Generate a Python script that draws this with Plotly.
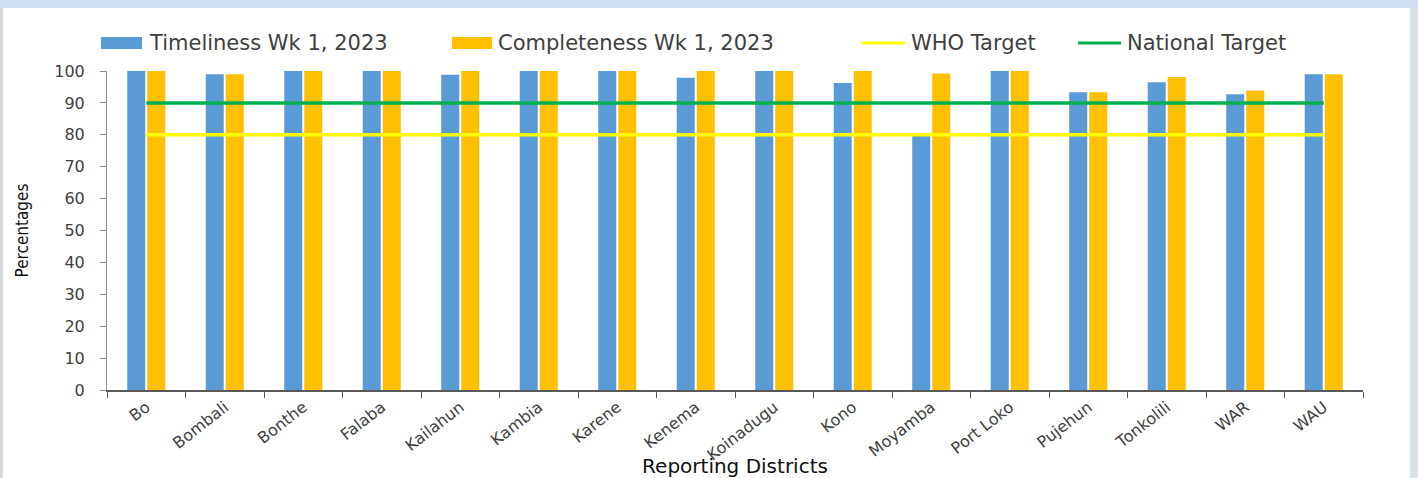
import plotly.graph_objects as go

# ---------------- data ----------------
districts = ["Bo", "Bombali", "Bonthe", "Falaba", "Kailahun", "Kambia", "Karene",
             "Kenema", "Koinadugu", "Kono", "Moyamba", "Port Loko", "Pujehun",
             "Tonkolili", "WAR", "WAU"]
timeliness = [100, 99, 100, 100, 98.8, 100, 100, 97.9, 100, 96.2, 79.6, 100,
              93.3, 96.5, 92.7, 99]
completeness = [100, 99, 100, 100, 100, 100, 100, 100, 100, 100, 99.2, 100,
                93.3, 98.1, 93.9, 99]
WHO_TARGET = 80
NATIONAL_TARGET = 90
y_ticks = [0, 10, 20, 30, 40, 50, 60, 70, 80, 90, 100]

series_names = ["Timeliness Wk 1, 2023", "Completeness Wk 1, 2023",
                "WHO Target", "National Target"]

# ---------------- styling ----------------
BLUE = "#5b9bd5"
GOLD = "#ffc000"
YELLOW = "#ffff00"
GREEN = "#00b050"
TXT = "#404040"

W, H = 1418, 478
ML, MR, MT, MB = 107, 55, 71, 88
PW = W - ML - MR
PH = H - MT - MB


def xp(px):
    return (px - ML) / PW


def yp(py):
    return (H - MB - py) / PH


fig = go.Figure()
fig.add_trace(go.Bar(x=districts, y=timeliness, name=series_names[0],
                     marker=dict(color=BLUE, line=dict(width=0))))
fig.add_trace(go.Bar(x=districts, y=completeness, name=series_names[1],
                     marker=dict(color=GOLD, line=dict(width=0))))
fig.add_trace(go.Scatter(x=districts, y=[WHO_TARGET] * len(districts),
                         name=series_names[2], mode="lines",
                         line=dict(color=YELLOW, width=3.5)))
fig.add_trace(go.Scatter(x=districts, y=[NATIONAL_TARGET] * len(districts),
                         name=series_names[3], mode="lines",
                         line=dict(color=GREEN, width=3.5)))

shapes = []
# outer frame decorations
shapes.append(dict(type="rect", xref="paper", yref="paper", layer="below",
                   x0=xp(0), x1=xp(W), y0=yp(8), y1=yp(0),
                   fillcolor="#cfe0f1", line=dict(width=0)))
shapes.append(dict(type="rect", xref="paper", yref="paper", layer="below",
                   x0=xp(0), x1=xp(3), y0=yp(H), y1=yp(8),
                   fillcolor="#d9d9d9", line=dict(width=0)))
shapes.append(dict(type="rect", xref="paper", yref="paper", layer="below",
                   x0=xp(1410), x1=xp(W), y0=yp(H), y1=yp(8),
                   fillcolor="#dae1ea", line=dict(width=0)))

# manual legend (wide swatches like the original)
LEG_Y = 43
annotations = []
leg_items = [
    ("rect", BLUE, 101, 142, 147, series_names[0]),
    ("rect", GOLD, 452, 492, 496, series_names[1]),
    ("line", YELLOW, 862, 905, 909, series_names[2]),
    ("line", GREEN, 1078, 1121, 1125, series_names[3]),
]
for kind, col, a, b, tx, label in leg_items:
    if kind == "rect":
        shapes.append(dict(type="rect", xref="paper", yref="paper",
                           x0=xp(a), x1=xp(b), y0=yp(LEG_Y + 6), y1=yp(LEG_Y - 6),
                           fillcolor=col, line=dict(width=0)))
    else:
        shapes.append(dict(type="line", xref="paper", yref="paper",
                           x0=xp(a), x1=xp(b), y0=yp(LEG_Y), y1=yp(LEG_Y),
                           line=dict(color=col, width=3)))
    annotations.append(dict(xref="paper", yref="paper", x=xp(tx), y=yp(LEG_Y),
                            xanchor="left", yanchor="middle", showarrow=False,
                            text=label,
                            font=dict(family="DejaVu Sans", size=21, color=TXT)))

fig.update_layout(
    width=W, height=H,
    margin=dict(l=ML, r=MR, t=MT, b=MB, pad=0),
    paper_bgcolor="white", plot_bgcolor="white",
    barmode="group", bargap=0.49, bargroupgap=0.1,
    showlegend=False,
    shapes=shapes, annotations=annotations,
    font=dict(family="DejaVu Sans", color=TXT),
)
fig.update_xaxes(
    type="category", automargin=False,
    showline=True, linecolor="#595959", linewidth=1.5,
    ticks="outside", tickson="boundaries", ticklen=6, tickcolor="#595959",
    tickangle=-38, tickfont=dict(family="DejaVu Sans", size=16, color=TXT),
    showgrid=False, zeroline=False,
    title=dict(text="Reporting Districts", standoff=0,
               font=dict(family="DejaVu Sans", size=20, color="#111111")),
)
fig.update_yaxes(
    range=[0, 100], automargin=False,
    tickmode="array", tickvals=y_ticks,
    showline=True, linecolor="#8c8c8c", linewidth=1,
    ticks="outside", ticklen=6, tickcolor="#8c8c8c", ticklabelstandoff=12,
    tickfont=dict(family="DejaVu Sans", size=16, color=TXT),
    showgrid=False, zeroline=False,
    title=dict(text="Percentages", standoff=21,
               font=dict(family="DejaVu Sans Condensed, Liberation Sans Narrow, sans-serif",
                         size=17, color="#111111")),
)

fig.write_html(
    "out.html",
    config={"displayModeBar": False},
    post_script="document.body.style.margin='0px';document.body.style.overflow='hidden';",
)
